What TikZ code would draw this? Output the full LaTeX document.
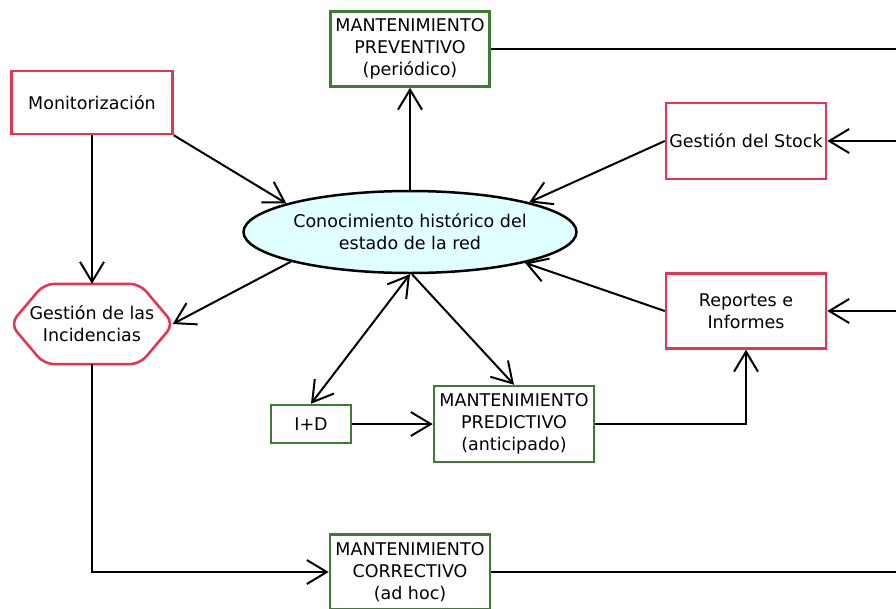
\documentclass[tikz,border=0pt]{standalone}
\usepackage{fontspec}
\setmainfont{DejaVu Sans}
\usetikzlibrary{arrows.meta,shapes.geometric}
\definecolor{boxred}{HTML}{E5344F}
\definecolor{boxgreen}{HTML}{3D7D33}
\definecolor{ellfill}{HTML}{E0FFFF}
\begin{document}
\begin{tikzpicture}[x=1pt,y=-1pt,
  every node/.style={font=\fontsize{17.5}{22}\selectfont, align=center, inner sep=0pt},
  redbox/.style={draw=boxred, line width=2.5pt, fill=white},
  greenbox/.style={draw=boxgreen, line width=2.5pt, fill=white},
  tip/.tip={Straight Barb[length=20pt,width=24pt,line width=2pt]},
  conn/.style={line width=2pt, -tip},
  plain/.style={line width=2pt}
]
\useasboundingbox (0,0) rectangle (896,608);

% nodes
\node[greenbox, minimum width=159pt, minimum height=75pt] (prev) at (410,49)
  {MANTENIMIENTO\\PREVENTIVO\\(periódico)};
\node[redbox, minimum width=161pt, minimum height=63pt] (mon) at (92,102.5) {Monitorización};
\node[redbox, minimum width=160pt, minimum height=76pt] (stock) at (746,141) {Gestión del Stock};
\node[ellipse, draw=black, line width=2.5pt, fill=ellfill, minimum width=333pt, minimum height=82pt] (hist) at (410,232)
  {Conocimiento histórico del\\estado de la red};
\node[minimum width=161pt, minimum height=80pt] (inc) at (92,324) {Gestión de las\\Incidencias};
\node[redbox, minimum width=160pt, minimum height=75pt] (rep) at (746,311) {Reportes e\\Informes};
\node[greenbox, minimum width=80pt, minimum height=38pt] (id) at (311,424) {I+D};
\node[greenbox, minimum width=160pt, minimum height=76pt] (pred) at (514,424)
  {MANTENIMIENTO\\PREDICTIVO\\(anticipado)};
\node[greenbox, minimum width=160pt, minimum height=75pt] (corr) at (410,572)
  {MANTENIMIENTO\\CORRECTIVO\\(ad hoc)};

% outline of the incident node: a flat hexagon with rounded corners
\draw[boxred, line width=2.5pt, rounded corners=10pt]
  ([xshift=-1pt]inc.west) -- ([xshift=33pt]inc.north west) -- ([xshift=-33pt]inc.north east)
  -- ([xshift=1pt]inc.east) -- ([xshift=-33pt]inc.south east) -- ([xshift=33pt]inc.south west) -- cycle;

% free ends at the right border
\coordinate (rPrev) at (896,49);
\coordinate (rStock) at (896,141);
\coordinate (rRep) at (896,311);
\coordinate (rCorr) at (896,572);

% connectors
\draw[conn] (hist.north) -- (prev.south);
\draw[conn] (mon.south east) -- (hist.167);
\draw[conn] (mon.south) -- (inc.north);
\draw[conn] (hist.194) -- (inc.east);
\draw[conn] (stock.west) -- (hist.14);
\draw[conn] (rep.west) -- (hist.345);
\draw[line width=2pt, tip-tip] (hist.south) -- (id.north);
\draw[conn] ([xshift=2pt]hist.south) -- (pred.north);
\draw[conn] (id.east) -- (pred.west);
\draw[conn] (pred.east) -| (rep.south);
\draw[conn] (inc.south) |- (corr.west);
\draw[plain] (prev.east) -- (rPrev);
\draw[conn] (rStock) -- (stock.east);
\draw[conn] (rRep) -- (rep.east);
\draw[plain] (corr.east) -- (rCorr);
\end{tikzpicture}
\end{document}
